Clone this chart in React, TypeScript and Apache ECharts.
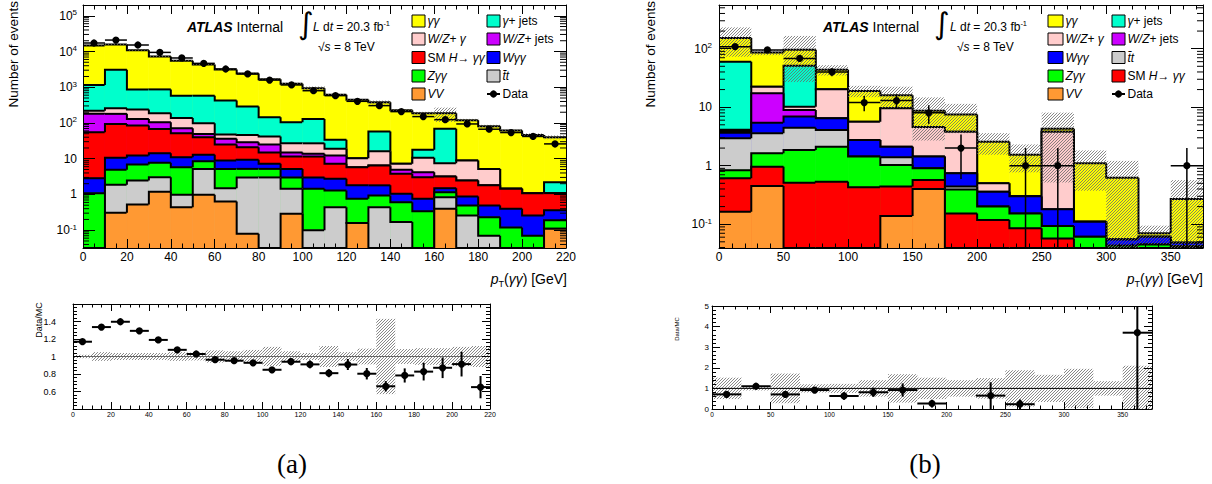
import React, { useEffect, useRef } from "react";
import * as echarts from "echarts";

const FONT = '"Liberation Sans", Arial, Helvetica, sans-serif';
const SERIF = '"Liberation Serif", "DejaVu Serif", serif';

// ================= Panel (a): 10 GeV bins =================
const aEdges = [0, 10, 20, 30, 40, 50, 60, 70, 80, 90, 100, 110, 120, 130, 140, 150, 160, 170, 180, 190, 200, 210, 220];
// stacked levels (upper edge of each component, stacked from the bottom)
const aVV = [0, 0.31, 0.52, 1.19, 0.44, 0.98, 0.64, 0.08, 0, 0.29, 0, 0, 0.16, 0, 0, 0, 0.4, 0, 0, 0, 0, 0.11];
const aTT = [0, 1.87, 2.46, 3.05, 0.98, 5.2, 1.5, 3.0, 3.0, 1.44, 0.1, 0.44, 0.16, 0.44, 0.17, 0, 0.84, 0.26, 0.07, 0, 0, 0.11];
const aZyy = [1.09, 4.9, 6.9, 7.7, 5.8, 8.5, 5.2, 5.2, 5.2, 3.0, 1.44, 1.3, 0.76, 0.94, 0.61, 0.34, 1.16, 0.49, 0.23, 0.12, 0.07, 0.19];
const aWyy = [2.85, 10.6, 12.3, 14.3, 11, 13, 8.9, 9.3, 7.2, 5.2, 3.0, 2.75, 1.8, 1.8, 1.05, 0.76, 1.5, 0.88, 0.49, 0.4, 0.26, 0.36];
const aHiggs = [55, 94, 85, 68, 52, 40, 25, 21, 15, 11.5, 11.5, 7.2, 5.8, 6.5, 3.8, 3.05, 3.2, 2.46, 1.8, 1.44, 1.09, 1.09];
const aWZjets = [180, 180, 130, 105, 71, 49, 36, 29, 25, 15, 13.7, 12.3, 5.8, 6.5, 4.9, 4.2, 3.2, 2.46, 1.8, 1.44, 1.09, 1.09];
const aWZgam = [220, 257, 237, 187, 139, 98, 48, 46, 42, 27, 27, 19, 10.3, 16.2, 7.2, 10.6, 7.5, 8.9, 5.2, 1.44, 1.09, 1.09];
const aGamJets = [1150, 3100, 870, 870, 580, 580, 425, 288, 144, 105, 130, 34, 10.3, 57.6, 7.2, 17.7, 68.6, 8.9, 5.2, 1.44, 1.09, 2.2];
const aTotal = [14800, 15640, 10880, 7300, 5540, 4330, 3150, 2440, 1670, 1250, 943, 619, 444, 378, 229, 188, 188, 120, 81, 62, 46, 40];
const aData = [17300, 20900, 15200, 9440, 6590, 4660, 3240, 2350, 1590, 1160, 800, 582, 404, 306, 208, 151, 124, 94, 67, 54, 42, 26];
const aDataErr = [132, 145, 123, 97, 81, 68, 57, 48, 40, 34, 28, 24, 20, 17.5, 14.4, 12.3, 11.1, 9.7, 8.2, 7.3, 6.5, 5.1];
const aBandRel = [0.02, 0.05, 0.04, 0.04, 0.04, 0.05, 0.045, 0.07, 0.06, 0.075, 0.11, 0.06, 0.04, 0.12, 0.05, 0.09, 0.43, 0.085, 0.095, 0.095, 0.11, 0.12];
const A_YMIN = 0.0318;
const A_YMAX = 2.0e5;

// ================= Panel (b): 25 GeV bins =================
const bEdges = [0, 25, 50, 75, 100, 125, 150, 175, 200, 225, 250, 275, 300, 325, 350, 375];
const bVV = [0.164, 0.45, 0, 0, 0, 0.138, 0.4, 0, 0, 0, 0, 0, 0, 0, 0];
const bHiggs = [0.61, 0.96, 0.51, 0.53, 0.43, 0.44, 0.57, 0.153, 0.118, 0.085, 0.057, 0.035, 0.03, 0.03, 0.03];
const bZyy = [0.84, 1.63, 1.85, 2.1, 1.43, 1.03, 0.9, 0.39, 0.2, 0.153, 0.093, 0.061, 0.043, 0.045, 0.042];
const bTT = [2.94, 3.58, 4.46, 4.07, 1.43, 1.39, 0.9, 0.44, 0.2, 0.153, 0.093, 0.061, 0.043, 0.045, 0.042];
const bWyy = [3.66, 5.43, 6.9, 6.45, 2.75, 2.1, 1.43, 0.74, 0.36, 0.3, 0.18, 0.11, 0.055, 0.061, 0.048];
const bWZjets = [3.9, 17.3, 8.95, 6.45, 2.75, 2.1, 1.43, 0.74, 0.36, 0.3, 0.18, 0.11, 0.055, 0.061, 0.048];
const bWZgam = [4.1, 22.4, 10.2, 20.2, 5.65, 9.6, 4.6, 3.8, 0.5, 0.3, 3.8, 0.11, 0.055, 0.061, 0.048];
const bGamJets = [60, 22.4, 51, 20.2, 5.65, 9.6, 4.6, 3.8, 0.5, 0.3, 3.8, 0.11, 0.055, 0.061, 0.048];
const bTotal = [152, 86, 96, 43.5, 19, 16, 8.7, 7.5, 2.57, 1.54, 4.3, 1.1, 0.62, 0.07, 0.27];
const bData = [108, 95, 68, 40, 12, 13, 8, 2, 0, 1, 1, 0, 0, 0, 1];
const bDataErr = [10.4, 9.7, 8.2, 6.3, 3.5, 3.6, 2.8, 1.41, 0, 1, 1, 0, 0, 0, 1];
const bBandRel = [0.52, 0.1, 0.72, 0.2, 0.22, 0.4, 0.69, 0.52, 0.4, 0.5, 0.88, 0.66, 0.95, 0.35, 1.1];
const B_YMIN = 0.0392;
const B_YMAX = 558;

const C = {
  yy: "#ffff00",
  yjets: "#00ffcc",
  wzy: "#ffcccc",
  wzj: "#cc00ff",
  h: "#ff0000",
  wyy: "#0000ff",
  zyy: "#00ff00",
  tt: "#cccccc",
  vv: "#ff9933",
};

const LBL = {
  yy: "{i|γγ}",
  yjets: "{i|γ}{n|+ jets}",
  wzy: "{i|W/Z}{n|+ }{i|γ}",
  wzj: "{i|W/Z}{n|+ jets}",
  h: "{n|SM }{i|H}{n|→ }{i|γγ}",
  wyy: "{i|Wγγ}",
  zyy: "{i|Zγγ}",
  tt: "{i|t̄t}",
  vv: "{i|VV}",
  data: "{n|Data}",
};

const HATCH_STEP = 3;
const HATCH_COLOR = "#6a6a6a";

// diagonal hatch lines (bottom-left to top-right) clipped to a rectangle
function hatchLines(x: number, y: number, w: number, h: number) {
  const out: any[] = [];
  if (w <= 0 || h <= 0) return out;
  const cMin = x + y;
  const cMax = x + w + y + h;
  let c = Math.ceil(cMin / HATCH_STEP) * HATCH_STEP;
  for (; c <= cMax; c += HATCH_STEP) {
    const u1 = Math.max(x, c - (y + h));
    const u2 = Math.min(x + w, c - y);
    if (u2 <= u1) continue;
    out.push({
      type: "line",
      shape: { x1: u1, y1: c - u1, x2: u2, y2: c - u2 },
      style: { stroke: HATCH_COLOR, lineWidth: 0.8 },
    });
  }
  return out;
}

function stackSeries(edges: number[], levels: number[], color: string, ymin: number, ai: number) {
  const data = levels.map((v, i) => [
    edges[i],
    edges[i + 1],
    Math.max(v, ymin),
    i === 0 ? ymin : Math.max(levels[i - 1], ymin),
  ]);
  return {
    type: "custom",
    xAxisIndex: ai,
    yAxisIndex: ai,
    clip: true,
    silent: true,
    encode: { x: [0, 1], y: [2, 3] },
    data,
    renderItem: (_p: any, api: any) => {
      const lo = api.value(0);
      const hi = api.value(1);
      const v = api.value(2);
      const pv = api.value(3);
      const tl = api.coord([lo, v]);
      const tr = api.coord([hi, v]);
      const bl = api.coord([lo, ymin]);
      const pp = api.coord([lo, pv]);
      return {
        type: "group",
        children: [
          {
            type: "rect",
            shape: { x: tl[0], y: tl[1], width: tr[0] - tl[0], height: bl[1] - tl[1] },
            style: { fill: color, stroke: color, lineWidth: 0.6 },
          },
          {
            type: "polyline",
            shape: { points: [pp, tl, tr] },
            style: { stroke: "#000", lineWidth: 2, fill: "none" },
          },
        ],
      };
    },
  };
}

function bandSeries(edges: number[], centre: number[], rel: number[], ymin: number, ai: number) {
  const data = centre.map((t, i) => [edges[i], edges[i + 1], Math.max(t * (1 - rel[i]), ymin), t * (1 + rel[i])]);
  return {
    type: "custom",
    xAxisIndex: ai,
    yAxisIndex: ai,
    clip: true,
    silent: true,
    encode: { x: [0, 1], y: [2, 3] },
    data,
    renderItem: (_p: any, api: any) => {
      const a = api.coord([api.value(0), api.value(3)]);
      const b = api.coord([api.value(1), api.value(2)]);
      return {
        type: "group",
        children: hatchLines(a[0], a[1], b[0] - a[0], b[1] - a[1]),
      };
    },
  };
}

function pointSeries(edges: number[], vals: number[], errs: number[], ymin: number, ai: number, lw: number, r: number) {
  const data: number[][] = [];
  vals.forEach((v, i) => {
    if (v <= 0) return;
    data.push([(edges[i] + edges[i + 1]) / 2, v, edges[i], edges[i + 1], Math.max(v - errs[i], ymin), v + errs[i]]);
  });
  return {
    type: "custom",
    xAxisIndex: ai,
    yAxisIndex: ai,
    clip: true,
    silent: true,
    z: 6,
    encode: { x: 0, y: 1 },
    data,
    renderItem: (_p: any, api: any) => {
      const y = api.value(1);
      const c = api.coord([api.value(0), y]);
      const a = api.coord([api.value(2), y]);
      const b = api.coord([api.value(3), y]);
      const lo = api.coord([api.value(0), api.value(4)]);
      const hi = api.coord([api.value(0), api.value(5)]);
      return {
        type: "group",
        children: [
          { type: "line", shape: { x1: a[0], y1: a[1], x2: b[0], y2: b[1] }, style: { stroke: "#000", lineWidth: lw } },
          { type: "line", shape: { x1: lo[0], y1: lo[1], x2: hi[0], y2: hi[1] }, style: { stroke: "#000", lineWidth: lw } },
          { type: "circle", shape: { cx: c[0], cy: c[1], r }, style: { fill: "#000" } },
        ],
      };
    },
  };
}

function logMinorTickSeries(ymin: number, ymax: number, xmin: number, xmax: number, ai: number, len: number) {
  const data: number[][] = [];
  for (let k = Math.floor(Math.log10(ymin)); k <= Math.ceil(Math.log10(ymax)); k++) {
    for (let m = 2; m <= 9; m++) {
      const v = m * Math.pow(10, k);
      if (v > ymin && v < ymax) data.push([xmin, v]);
    }
  }
  return {
    type: "custom",
    xAxisIndex: ai,
    yAxisIndex: ai,
    silent: true,
    z: 7,
    encode: { x: 0, y: 1 },
    data,
    renderItem: (_p: any, api: any) => {
      const v = api.value(1);
      const p = api.coord([xmin, v]);
      const q = api.coord([xmax, v]);
      return {
        type: "group",
        children: [
          { type: "line", shape: { x1: p[0], y1: p[1], x2: p[0] + len, y2: p[1] }, style: { stroke: "#000", lineWidth: 1 } },
          { type: "line", shape: { x1: q[0], y1: q[1], x2: q[0] - len, y2: q[1] }, style: { stroke: "#000", lineWidth: 1 } },
        ],
      };
    },
  };
}

function refLineSeries(xmin: number, xmax: number, ai: number, color: string) {
  return {
    type: "custom",
    xAxisIndex: ai,
    yAxisIndex: ai,
    silent: true,
    z: 4,
    encode: { x: 0, y: 1 },
    data: [[xmin, 1]],
    renderItem: (_p: any, api: any) => {
      const a = api.coord([xmin, 1]);
      const b = api.coord([xmax, 1]);
      return { type: "line", shape: { x1: a[0], y1: a[1], x2: b[0], y2: b[1] }, style: { stroke: color, lineWidth: 1 } };
    },
  };
}

const axLine = { show: true, onZero: false, lineStyle: { color: "#000", width: 1 } };
const tickStyle = { color: "#000", width: 1 };

function xAx(grid: number, position: string, min: number, max: number, interval: number, minorSplit: number, tickLen: number, label: any) {
  return {
    type: "value",
    gridIndex: grid,
    position,
    min,
    max,
    interval,
    z: 5,
    axisLine: axLine,
    axisTick: { show: true, inside: true, length: tickLen, lineStyle: tickStyle },
    minorTick: { show: true, splitNumber: minorSplit, length: tickLen / 2, lineStyle: tickStyle },
    splitLine: { show: false },
    minorSplitLine: { show: false },
    axisLabel: label ? { show: true, fontFamily: FONT, color: "#000", ...label } : { show: false },
  };
}

const logLabel = (v: number) => {
  const e = Math.round(Math.log10(v));
  if (e === 0) return "{b|1}";
  if (e === 1) return "{b|10}";
  return "{b|10}{s|" + e + "}";
};

function logY(grid: number, position: string, min: number, max: number, labels: boolean, margin: number) {
  return {
    type: "log",
    logBase: 10,
    gridIndex: grid,
    position,
    min,
    max,
    z: 5,
    axisLine: axLine,
    axisTick: { show: true, inside: true, length: 12, lineStyle: tickStyle },
    splitLine: { show: false },
    axisLabel: labels
      ? {
          show: true,
          margin,
          showMinLabel: false,
          showMaxLabel: false,
          formatter: logLabel,
          rich: {
            b: { fontFamily: FONT, fontSize: 12, color: "#000", lineHeight: 14 },
            s: { fontFamily: FONT, fontSize: 8, color: "#000", verticalAlign: "top", lineHeight: 8 },
          },
        }
      : { show: false },
  };
}

function linY(grid: number, position: string, min: number, max: number, interval: number, minorSplit: number, label: any) {
  return {
    type: "value",
    gridIndex: grid,
    position,
    min,
    max,
    interval,
    z: 5,
    axisLine: axLine,
    axisTick: { show: true, inside: true, length: 8, lineStyle: tickStyle },
    minorTick: { show: true, splitNumber: minorSplit, length: 4, lineStyle: tickStyle },
    splitLine: { show: false },
    minorSplitLine: { show: false },
    axisLabel: label ? { show: true, fontFamily: FONT, color: "#000", ...label } : { show: false },
  };
}

const R = {
  n: { fontFamily: FONT, fontSize: 12, color: "#000", lineHeight: 15 },
  i: { fontFamily: FONT, fontSize: 12, fontStyle: "italic", color: "#000", lineHeight: 15 },
  n13: { fontFamily: FONT, fontSize: 13.5, color: "#000", lineHeight: 16 },
  n14: { fontFamily: FONT, fontSize: 14, color: "#000", lineHeight: 18 },
  i14: { fontFamily: FONT, fontSize: 14, fontStyle: "italic", color: "#000", lineHeight: 18 },
  bi: { fontFamily: FONT, fontSize: 14, fontStyle: "italic", fontWeight: "bold", color: "#000", lineHeight: 18 },
  s: { fontFamily: FONT, fontSize: 7.5, color: "#000", verticalAlign: "top", lineHeight: 8 },
  sub: { fontFamily: FONT, fontSize: 9, color: "#000", verticalAlign: "bottom", lineHeight: 9 },
};

function T(x: number, y: number, text: string, opts: any = {}) {
  const align = opts.align || "left";
  return {
    type: "text",
    x,
    y,
    rotation: opts.rotation || 0,
    silent: true,
    z: 100,
    style: {
      text,
      rich: R,
      fill: "#000",
      font: opts.font || `12px ${FONT}`,
      align,
      textAlign: align,
      verticalAlign: "middle",
      textVerticalAlign: "middle",
    },
  };
}

function legendEntries(items: any[]) {
  const out: any[] = [];
  items.forEach((it) => {
    const [x, w, yc, color, label] = it;
    if (color) {
      out.push({
        type: "rect",
        silent: true,
        z: 100,
        shape: { x, y: yc - 6, width: w, height: 12 },
        style: { fill: color, stroke: "#000", lineWidth: 1 },
      });
    } else {
      out.push({ type: "line", silent: true, z: 100, shape: { x1: x, y1: yc, x2: x + w, y2: yc }, style: { stroke: "#000", lineWidth: 2 } });
      out.push({ type: "circle", silent: true, z: 100, shape: { cx: x + w / 2, cy: yc, r: 3.6 }, style: { fill: "#000" } });
    }
    out.push(T(x + w + 2.5, yc, label));
  });
  return out;
}

const ROWS = [21, 39, 57.5, 76, 94];

function buildOption() {
  const aRatio = aData.map((d, i) => d / aTotal[i]);
  const aRatioErr = aDataErr.map((e, i) => e / aTotal[i]);
  const bRatio = bData.map((d, i) => d / bTotal[i]);
  const bRatioErr = bDataErr.map((e, i) => e / bTotal[i]);
  const ones = (n: number) => new Array(n).fill(1);

  const series: any[] = [
    // panel (a) main
    stackSeries(aEdges, aTotal, C.yy, A_YMIN, 0),
    stackSeries(aEdges, aGamJets, C.yjets, A_YMIN, 0),
    stackSeries(aEdges, aWZgam, C.wzy, A_YMIN, 0),
    stackSeries(aEdges, aWZjets, C.wzj, A_YMIN, 0),
    stackSeries(aEdges, aHiggs, C.h, A_YMIN, 0),
    stackSeries(aEdges, aWyy, C.wyy, A_YMIN, 0),
    stackSeries(aEdges, aZyy, C.zyy, A_YMIN, 0),
    stackSeries(aEdges, aTT, C.tt, A_YMIN, 0),
    stackSeries(aEdges, aVV, C.vv, A_YMIN, 0),
    bandSeries(aEdges, aTotal, aBandRel, A_YMIN, 0),
    pointSeries(aEdges, aData, aDataErr, A_YMIN, 0, 1.5, 3.6),
    logMinorTickSeries(A_YMIN, A_YMAX, 0, 220, 0, 6),
    // panel (a) ratio
    bandSeries(aEdges, ones(aEdges.length - 1), aBandRel, 0.4, 1),
    refLineSeries(0, 220, 1, "#666"),
    pointSeries(aEdges, aRatio, aRatioErr, 0.4, 1, 2, 3.6),
    // panel (b) main
    stackSeries(bEdges, bTotal, C.yy, B_YMIN, 2),
    stackSeries(bEdges, bGamJets, C.yjets, B_YMIN, 2),
    stackSeries(bEdges, bWZgam, C.wzy, B_YMIN, 2),
    stackSeries(bEdges, bWZjets, C.wzj, B_YMIN, 2),
    stackSeries(bEdges, bWyy, C.wyy, B_YMIN, 2),
    stackSeries(bEdges, bTT, C.tt, B_YMIN, 2),
    stackSeries(bEdges, bZyy, C.zyy, B_YMIN, 2),
    stackSeries(bEdges, bHiggs, C.h, B_YMIN, 2),
    stackSeries(bEdges, bVV, C.vv, B_YMIN, 2),
    bandSeries(bEdges, bTotal, bBandRel, B_YMIN, 2),
    pointSeries(bEdges, bData, bDataErr, B_YMIN, 2, 1.5, 3.6),
    logMinorTickSeries(B_YMIN, B_YMAX, 0, 375, 2, 6),
    // panel (b) ratio
    bandSeries(bEdges, ones(bEdges.length - 1), bBandRel, 0, 3),
    refLineSeries(0, 375, 3, "#000"),
    pointSeries(bEdges, bRatio, bRatioErr, 0, 3, 2, 3.6),
  ];

  const grids = [
    { left: 83, top: 5, width: 483, height: 243 },
    { left: 73, top: 304, width: 417, height: 105 },
    { left: 719, top: 5, width: 484, height: 243 },
    { left: 712, top: 306, width: 440, height: 103 },
  ];

  // axes 0..3 are the labelled ones (one per grid), 4..7 are mirrors on the opposite side
  const xAxis = [
    xAx(0, "bottom", 0, 220, 20, 4, 9, { fontSize: 12, margin: 3 }),
    xAx(1, "bottom", 0, 220, 20, 4, 7, { fontSize: 7, margin: 2 }),
    xAx(2, "bottom", 0, 375, 50, 5, 9, { fontSize: 12, margin: 3, showMaxLabel: false }),
    xAx(3, "bottom", 0, 375, 50, 5, 7, { fontSize: 6.5, margin: 2, showMaxLabel: false }),
    xAx(0, "top", 0, 220, 20, 4, 9, null),
    xAx(1, "top", 0, 220, 20, 4, 7, null),
    xAx(2, "top", 0, 375, 50, 5, 9, null),
    xAx(3, "top", 0, 375, 50, 5, 7, null),
  ];
  const ratioFmt = (v: number) => (Math.abs(v - 1) < 1e-9 ? "1" : v.toFixed(1));
  const yAxis = [
    logY(0, "left", A_YMIN, A_YMAX, true, 6),
    linY(1, "left", 0.4, 1.6, 0.2, 5, { fontSize: 9, margin: 17, showMinLabel: false, showMaxLabel: false, formatter: ratioFmt }),
    logY(2, "left", B_YMIN, B_YMAX, true, 7),
    linY(3, "left", 0, 5, 1, 5, { fontSize: 8, margin: 3 }),
    logY(0, "right", A_YMIN, A_YMAX, false, 0),
    linY(1, "right", 0.4, 1.6, 0.2, 5, null),
    logY(2, "right", B_YMIN, B_YMAX, false, 0),
    linY(3, "right", 0, 5, 1, 5, null),
  ];

  const xTitle = "{i14|p}{sub|T}{n14|(}{i14|γγ}{n14|) [GeV]}";
  const atlas = "{bi|ATLAS}{n14| Internal}";
  const lumi = "{i|L}{n| d}{i|t}{n| = 20.3 fb}{s|-1}";
  const sqrts = "{n|√}{i|s}{n| = 8 TeV}";

  const elements: any[] = [
    // panel (a)
    T(13, 1, "{n13|Number of events}", { rotation: Math.PI / 2, align: "right" }),
    T(567, 279, xTitle, { align: "right" }),
    T(187, 27, atlas),
    T(298, 23, "∫", { font: `30px "DejaVu Sans", sans-serif` }),
    T(313, 27, lumi),
    T(318, 47, sqrts),
    ...legendEntries([
      [412, 13, ROWS[0], C.yy, LBL.yy],
      [412, 13, ROWS[1], C.wzy, LBL.wzy],
      [412, 13, ROWS[2], C.h, LBL.h],
      [412, 13, ROWS[3], C.zyy, LBL.zyy],
      [412, 13, ROWS[4], C.vv, LBL.vv],
      [487, 13, ROWS[0], C.yjets, LBL.yjets],
      [487, 13, ROWS[1], C.wzj, LBL.wzj],
      [487, 13, ROWS[2], C.wyy, LBL.wyy],
      [487, 13, ROWS[3], C.tt, LBL.tt],
      [487, 13, ROWS[4], null, LBL.data],
    ]),
    {
      type: "text",
      x: 38.5,
      y: 320,
      rotation: Math.PI / 2,
      silent: true,
      z: 100,
      style: { text: "Data/MC", font: `9px ${FONT}`, fill: "#000", align: "center", textAlign: "center", verticalAlign: "middle", textVerticalAlign: "middle" },
    },
    {
      type: "text",
      x: 292,
      y: 464,
      silent: true,
      z: 100,
      style: { text: "(a)", font: `27px ${SERIF}`, fill: "#000", align: "center", textAlign: "center", verticalAlign: "middle", textVerticalAlign: "middle" },
    },
    // panel (b)
    T(650, 1, "{n13|Number of events}", { rotation: Math.PI / 2, align: "right" }),
    T(1203, 279, xTitle, { align: "right" }),
    T(823, 27, atlas),
    T(934, 23, "∫", { font: `30px "DejaVu Sans", sans-serif` }),
    T(950, 27, lumi),
    T(957, 47, sqrts),
    ...legendEntries([
      [1048, 15, ROWS[0], C.yy, LBL.yy],
      [1048, 15, ROWS[1], C.wzy, LBL.wzy],
      [1048, 15, ROWS[2], C.wyy, LBL.wyy],
      [1048, 15, ROWS[3], C.zyy, LBL.zyy],
      [1048, 15, ROWS[4], C.vv, LBL.vv],
      [1112, 13, ROWS[0], C.yjets, LBL.yjets],
      [1112, 13, ROWS[1], C.wzj, LBL.wzj],
      [1112, 13, ROWS[2], C.tt, LBL.tt],
      [1112, 13, ROWS[3], C.h, LBL.h],
      [1112, 13, ROWS[4], null, LBL.data],
    ]),
    {
      type: "text",
      x: 677,
      y: 329,
      rotation: Math.PI / 2,
      silent: true,
      z: 100,
      style: { text: "Data/MC", font: `6px ${FONT}`, fill: "#000", align: "center", textAlign: "center", verticalAlign: "middle", textVerticalAlign: "middle" },
    },
    {
      type: "text",
      x: 925,
      y: 464,
      silent: true,
      z: 100,
      style: { text: "(b)", font: `27px ${SERIF}`, fill: "#000", align: "center", textAlign: "center", verticalAlign: "middle", textVerticalAlign: "middle" },
    },
  ];

  return {
    animation: false,
    backgroundColor: "#ffffff",
    textStyle: { fontFamily: FONT },
    grid: grids,
    xAxis,
    yAxis,
    series,
    graphic: { elements },
  };
}

export default function App() {
  const ref = useRef<HTMLDivElement>(null);
  useEffect(() => {
    document.body.style.margin = "0";
    const chart = echarts.init(ref.current as HTMLDivElement, undefined, { renderer: "svg", width: 1212, height: 484 });
    chart.setOption(buildOption() as any);
    return () => chart.dispose();
  }, []);
  return <div ref={ref} style={{ width: 1212, height: 484 }} />;
}
